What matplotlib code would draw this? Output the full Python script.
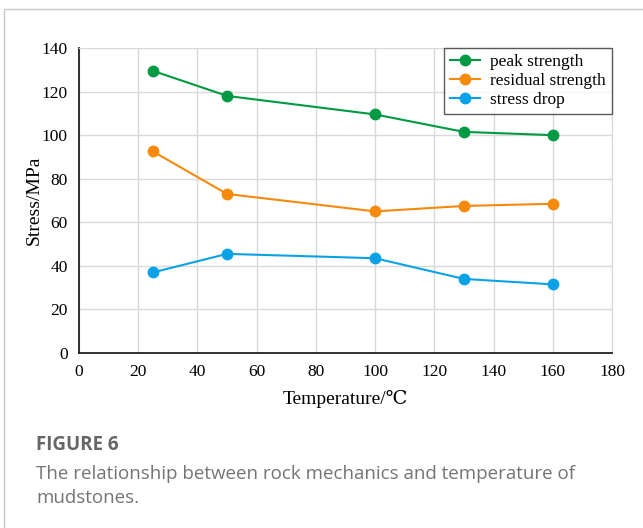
import matplotlib.pyplot as plt
from matplotlib.patches import Rectangle

# temperature (deg C) and stresses (MPa)
temperature = [25, 50, 100, 130, 160]
peak_strength = [129.5, 118.0, 109.5, 101.5, 100.0]
residual_strength = [92.5, 73.0, 65.0, 67.5, 68.5]
stress_drop = [37.0, 45.5, 43.5, 34.0, 31.5]

serif = ['Liberation Serif', 'DejaVu Serif']
sans = ['Open Sans', 'DejaVu Sans']

fig = plt.figure(figsize=(6.43, 5.28), dpi=100)

# light card frame around the figure
fig.patches.append(Rectangle((4 / 643, -0.1), 1.2, (528 - 9) / 528 + 0.1,
                             transform=fig.transFigure, fill=False,
                             edgecolor='#c8c8c8', linewidth=1.0))

ax = fig.add_axes([79 / 643, (528 - 353) / 528, 533 / 643, 305 / 528])

ax.plot(temperature, peak_strength, color='#009a44', marker='o',
        markersize=7.5, linewidth=1.5, label='peak strength')
ax.plot(temperature, residual_strength, color='#f58a0c', marker='o',
        markersize=7.5, linewidth=1.5, label='residual strength')
ax.plot(temperature, stress_drop, color='#0aa2e6', marker='o',
        markersize=7.5, linewidth=1.5, label='stress drop')

ax.set_xlim(0, 180)
ax.set_ylim(0, 140)
ax.set_xticks(range(0, 181, 20))
ax.set_yticks(range(0, 141, 20))
ax.grid(True, color='#d9d9d9', linewidth=1.0)
ax.set_axisbelow(True)

for side in ('top', 'right'):
    ax.spines[side].set_color('#d9d9d9')
for side in ('left', 'bottom'):
    ax.spines[side].set_color('#222222')
    ax.spines[side].set_linewidth(1.3)

ax.tick_params(length=0, pad=8, labelsize=12.5)
for lab in ax.get_xticklabels() + ax.get_yticklabels():
    lab.set_family(serif)

ax.set_xlabel('Temperature/℃', family=serif, fontsize=14, labelpad=7)
ax.set_ylabel('Stress/MPa', family=serif, fontsize=14)
ax.yaxis.set_label_coords(-0.068, 0.5)

leg = ax.legend(loc='upper right', prop={'family': serif, 'size': 12.5},
                frameon=True, fancybox=False, borderaxespad=0.0,
                handlelength=1.7, labelspacing=0.15, borderpad=0.35,
                handletextpad=0.6)
leg.get_frame().set_edgecolor('#333333')
leg.get_frame().set_linewidth(1.0)

fig.text(36 / 643, 1 - 445 / 528, 'FIGURE 6', family=sans, fontsize=13.5,
         color='#666666', fontweight='bold', va='center')
fig.text(36 / 643, 1 - 474 / 528,
         'The relationship between rock mechanics and temperature of',
         family=sans, fontsize=13.5, color='#747474', va='center')
fig.text(36 / 643, 1 - 498 / 528, 'mudstones.',
         family=sans, fontsize=13.5, color='#747474', va='center')

fig.savefig('out.png', dpi=100)
